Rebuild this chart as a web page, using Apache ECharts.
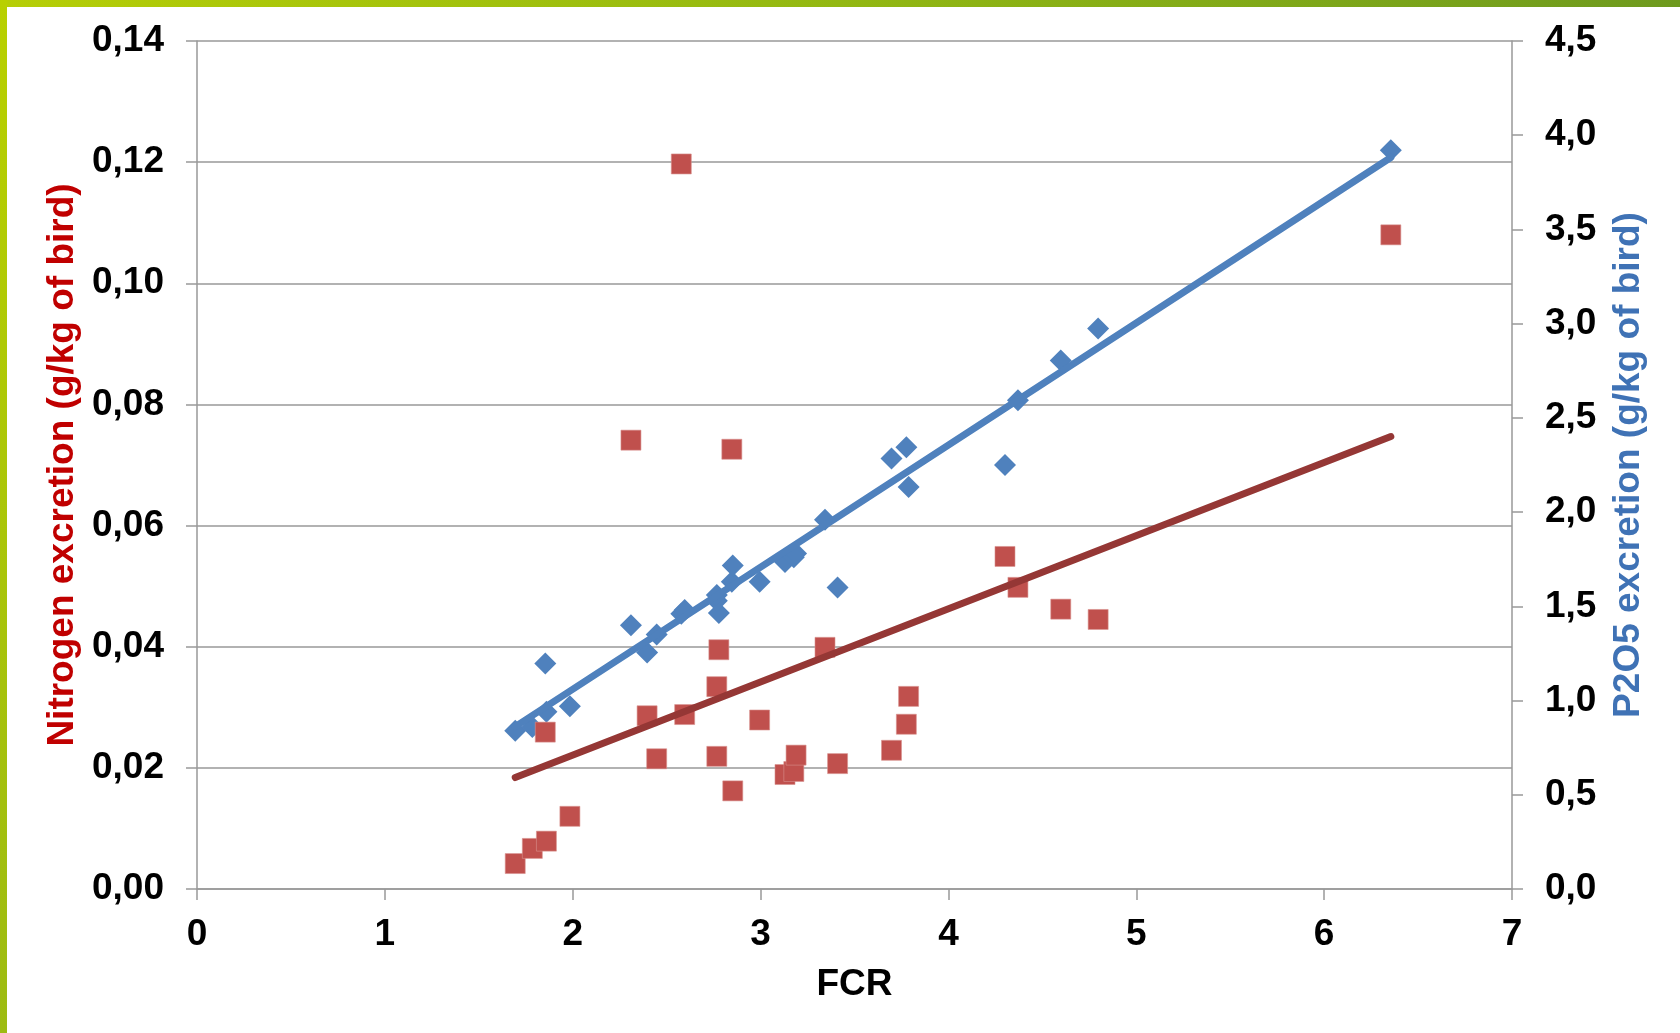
<!DOCTYPE html>
<html>
<head>
<meta charset="utf-8">
<script src="https://cdn.jsdelivr.net/npm/echarts@6/dist/echarts.min.js"></script>
<style>
html,body{margin:0;padding:0;background:#fff;}
#chart{width:1680px;height:1033px;}
</style>
</head>
<body>
<div id="chart"></div>
<script>
// FCR values (x), shared by both series
const fcr = [1.694, 1.785, 1.86, 1.854, 1.985, 2.31, 2.396, 2.447, 2.578, 2.596, 2.778, 2.767, 2.767, 2.847, 2.852, 2.995, 3.13, 3.177, 3.189, 3.343, 3.41, 3.697, 3.776, 3.788, 4.301, 4.37, 4.598, 4.797, 6.355];
// Nitrogen excretion (g/kg of bird) - left axis
const nitrogen = [0.0042, 0.0067, 0.0079, 0.0259, 0.0120, 0.0741, 0.0286, 0.0215, 0.1197, 0.0288, 0.0395, 0.0334, 0.0219, 0.0726, 0.0162, 0.0279, 0.0189, 0.0194, 0.0221, 0.0399, 0.0207, 0.0229, 0.0272, 0.0318, 0.0549, 0.0498, 0.0462, 0.0445, 0.1080];
// P2O5 excretion (g/kg of bird) - right axis
const p2o5 = [0.84, 0.86, 0.94, 1.197, 0.97, 1.40, 1.255, 1.35, 1.46, 1.48, 1.465, 1.53, 1.56, 1.63, 1.717, 1.63, 1.735, 1.76, 1.78, 1.96, 1.60, 2.285, 2.344, 2.133, 2.25, 2.594, 2.804, 2.974, 3.92];
// Linear trend line end points
const nitrogenTrend = [[1.694, 0.0184], [6.355, 0.0747]];
const p2o5Trend = [[1.694, 0.862], [6.355, 3.882]];

const nPts = fcr.map((x, i) => [x, nitrogen[i]]);
const pPts = fcr.map((x, i) => [x, p2o5[i]]);

const FONT = "'Liberation Sans', Arial, sans-serif";
const axisGray = '#999999';
const labelStyle = {fontFamily: FONT, fontSize: 37, fontWeight: 'bold', color: '#000'};

const chart = echarts.init(document.getElementById('chart'), null, {renderer: 'canvas'});
chart.setOption({
  backgroundColor: '#ffffff',
  animation: false,
  graphic: [
    {type: 'rect', left: 0, top: 0, z: 100, shape: {width: 1680, height: 7},
     style: {fill: new echarts.graphic.LinearGradient(0, 0, 1, 0, [
       {offset: 0, color: '#b6ce06'}, {offset: 0.5, color: '#93b812'}, {offset: 1, color: '#6e9a1e'}])}},
    {type: 'rect', left: 0, top: 0, z: 100, shape: {width: 7, height: 1033},
     style: {fill: new echarts.graphic.LinearGradient(0, 0, 0, 1, [
       {offset: 0, color: '#b8d000'}, {offset: 1, color: '#9dbb12'}])}}
  ],
  grid: {left: 197, right: 168, top: 41, bottom: 144, containLabel: false},
  xAxis: {
    type: 'value', min: 0, max: 7, interval: 1,
    name: 'FCR', nameLocation: 'middle', nameGap: 77,
    nameTextStyle: {fontFamily: FONT, fontSize: 37, fontWeight: 'bold', color: '#000'},
    axisLine: {show: true, onZero: false, lineStyle: {color: axisGray, width: 1.5}},
    axisTick: {show: true, length: 11, lineStyle: {color: axisGray, width: 1.5}},
    axisLabel: Object.assign({margin: 27}, labelStyle),
    splitLine: {show: false}
  },
  yAxis: [
    {
      type: 'value', min: 0, max: 0.14, interval: 0.02, position: 'left',
      name: 'Nitrogen excretion (g/kg of bird)', nameLocation: 'middle', nameGap: 114, nameRotate: 90,
      nameTextStyle: {fontFamily: FONT, fontSize: 37, fontWeight: 'bold', color: '#c00000'},
      axisLine: {show: true, lineStyle: {color: axisGray, width: 1.5}},
      axisTick: {show: true, length: 11, lineStyle: {color: axisGray, width: 1.5}},
      axisLabel: Object.assign({margin: 33, formatter: v => v.toFixed(2).replace('.', ',')}, labelStyle),
      splitLine: {show: true, lineStyle: {color: axisGray, width: 1.5}}
    },
    {
      type: 'value', min: 0, max: 4.5, interval: 0.5, position: 'right',
      name: 'P2O5 excretion (g/kg of bird)', nameLocation: 'middle', nameGap: 98, nameRotate: 90,
      nameTextStyle: {fontFamily: FONT, fontSize: 37, fontWeight: 'bold', color: '#3f72b5'},
      axisLine: {show: true, lineStyle: {color: axisGray, width: 1.5}},
      axisTick: {show: true, length: 11, lineStyle: {color: axisGray, width: 1.5}},
      axisLabel: Object.assign({margin: 33, formatter: v => v.toFixed(1).replace('.', ',')}, labelStyle),
      splitLine: {show: false}
    }
  ],
  series: [
    {name: 'P2O5', type: 'scatter', yAxisIndex: 1, data: pPts, symbol: 'diamond', symbolSize: 22,
     itemStyle: {color: '#4f81bd', opacity: 1}, z: 2},
    {name: 'P2O5 trend', type: 'line', yAxisIndex: 1, data: p2o5Trend, showSymbol: false, symbol: 'none',
     lineStyle: {color: '#4f81bd', width: 7, cap: 'round'}, z: 3},
    {name: 'Nitrogen', type: 'scatter', yAxisIndex: 0, data: nPts, symbol: 'rect', symbolSize: 20,
     itemStyle: {color: '#c0504d', opacity: 1, borderColor: '#d9928f', borderWidth: 0.6}, z: 4},
    {name: 'Nitrogen trend', type: 'line', yAxisIndex: 0, data: nitrogenTrend, showSymbol: false, symbol: 'none',
     lineStyle: {color: '#953735', width: 7, cap: 'round'}, z: 5}
  ]
});
</script>
</body>
</html>
